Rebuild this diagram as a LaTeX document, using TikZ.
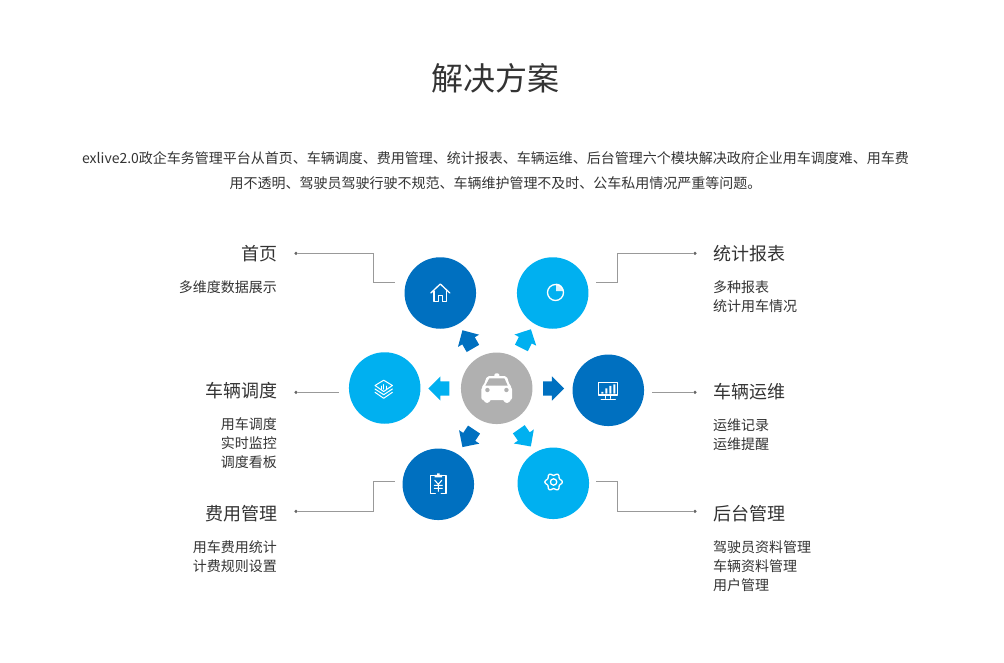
\documentclass[tikz,border=0pt]{standalone}
\usepackage{fontspec}
\setmainfont{Noto Sans CJK SC}
\usetikzlibrary{shapes.arrows}
\definecolor{deepblue}{HTML}{0070C0}
\definecolor{skyblue}{HTML}{00B0F0}
\definecolor{hubgray}{HTML}{B0B0B0}
\definecolor{leadgray}{HTML}{999999}
\definecolor{inkgray}{HTML}{333333}
\tikzset{
  bigdisc/.style={circle,minimum size=71.5pt,inner sep=0pt},
  blockarrow/.style={single arrow,anchor=tip,inner sep=0pt,text height=7pt,text depth=7pt,text width=0pt,minimum width=24pt,minimum height=21pt,single arrow head extend=5pt},
  leadline/.style={draw=leadgray,line width=1pt},
  leaddot/.style={circle,fill=black!60,minimum size=3.4pt,inner sep=0pt},
  headtext/.style={text=inkgray,inner sep=0pt,font=\fontsize{18}{22}\selectfont},
  listtext/.style={text=inkgray,inner sep=0pt,font=\fontsize{14}{19}\selectfont},
  iconline/.style={draw=white,line width=1.3pt,line join=round,line cap=round}
}
\begin{document}
\begin{tikzpicture}[x=1pt,y=-1pt]
  \useasboundingbox (0,0) rectangle (1004,663);
  \node[text=inkgray,inner sep=0pt,font=\fontsize{32}{38}\selectfont] (title) at (495,78) {解决方案};
  \node[listtext,align=center,font=\fontsize{14}{25}\selectfont] (intro) at (495.5,170.5) {exlive2.0政企车务管理平台从首页、车辆调度、费用管理、统计报表、车辆运维、后台管理六个模块解决政府企业用车调度难、用车费\\用不透明、驾驶员驾驶行驶不规范、车辆维护管理不及时、公车私用情况严重等问题。};

  \foreach \name/\cx/\cy/\tone in {home/440.3/293/deepblue,report/552.7/293/skyblue,dispatch/384.7/388/skyblue,upkeep/608.3/390.3/deepblue,cost/438.3/484.3/deepblue,admin/553.3/483.3/skyblue,hub/496.7/388.3/hubgray}
    \node[bigdisc,fill=\tone] (\name) at (\cx,\cy) {};

  \node[blockarrow,fill=deepblue,rotate=120] (arrowhome) at (462.3,330) {};
  \node[blockarrow,fill=skyblue,rotate=63] (arrowreport) at (531,329) {};
  \node[blockarrow,fill=skyblue,rotate=180] (arrowdispatch) at (428,388.5) {};
  \node[blockarrow,fill=deepblue] (arrowupkeep) at (564.3,388.5) {};
  \node[blockarrow,fill=deepblue,rotate=236.4] (arrowcost) at (462.3,447.3) {};
  \node[blockarrow,fill=skyblue,rotate=305] (arrowadmin) at (531,446.7) {};

  \node[headtext,anchor=east] (homehead) at (277.5,254) {首页};
  \node[listtext,anchor=east] (homelist) at (277,287.5) {多维度数据展示};
  \node[headtext,anchor=east] (dispatchhead) at (277.5,391) {车辆调度};
  \node[listtext,anchor=east,align=right] (dispatchlist) at (277,443.5) {用车调度\\实时监控\\调度看板};
  \node[headtext,anchor=east] (costhead) at (277.5,514) {费用管理};
  \node[listtext,anchor=east,align=right] (costlist) at (277,557) {用车费用统计\\计费规则设置};
  \node[headtext,anchor=west] (reporthead) at (713,254) {统计报表};
  \node[listtext,anchor=west,align=left] (reportlist) at (713,297) {多种报表\\统计用车情况};
  \node[headtext,anchor=west] (upkeephead) at (713,391.5) {车辆运维};
  \node[listtext,anchor=west,align=left] (upkeeplist) at (713,434.5) {运维记录\\运维提醒};
  \node[headtext,anchor=west] (adminhead) at (713,514) {后台管理};
  \node[listtext,anchor=west,align=left] (adminlist) at (713,566.5) {驾驶员资料管理\\车辆资料管理\\用户管理};

  \node[leaddot] (homedot) at (296,253.4) {};
  \node[leaddot] (dispatchdot) at (296,392.4) {};
  \node[leaddot] (costdot) at (296,511.4) {};
  \node[leaddot] (reportdot) at (695,253.4) {};
  \node[leaddot] (upkeepdot) at (695,392.4) {};
  \node[leaddot] (admindot) at (695,511.4) {};
  \coordinate (homebend) at (373.3,282.3);
  \coordinate (homeend) at (395,282.3);
  \coordinate (costbend) at (373.3,481.3);
  \coordinate (costend) at (395,481.3);
  \coordinate (reportbend) at (617.3,282.3);
  \coordinate (reportend) at (596,282.3);
  \coordinate (adminbend) at (617.3,481.3);
  \coordinate (adminend) at (596,481.3);
  \coordinate (dispatchend) at (339,392.4);
  \coordinate (upkeepend) at (652,392.4);
  \foreach \name in {home,cost,report,admin}
    \draw[leadline] (\name dot) -| (\name bend) -- (\name end);
  \path[leadline]
    (dispatchdot) edge (dispatchend)
    (upkeepdot) edge (upkeepend);

  \begin{scope}[shift={(home.center)}]
    \draw[iconline] (-9.5,0) -- (0,-9) -- (9.5,0);
    \draw[iconline] (-6.3,-2) -- (-6.3,8.3) -- (-2,8.3) -- (-2,2.5) -- (2,2.5) -- (2,8.3) -- (6.3,8.3) -- (6.3,-2);
  \end{scope}
  \begin{scope}[shift={(report.center)}]
    \draw[iconline] (2.8,-0.5) circle (8);
    \fill[white,opacity=.85] (3.3,-2) -- (3.3,-9.5) arc (-90:0:7.5) -- cycle;
  \end{scope}
  \begin{scope}[shift={(dispatch.center)}]
    \draw[iconline,line width=1pt] (-1,-7.8) -- (7.7,-2.5) -- (-1,3.5) -- (-9.7,-2.5) -- cycle;
    \draw[iconline,line width=1pt] (-9.7,1) -- (-1,6.7) -- (7.7,1);
    \draw[iconline,line width=1pt] (-9.7,4.3) -- (-1,10.3) -- (7.7,4.3);
    \draw[iconline,line width=.8pt] (-3.5,1.2) -- (-3.5,-2) (-1,1.2) -- (-1,-3.5) (1.5,1.2) -- (1.5,-2);
  \end{scope}
  \begin{scope}[shift={(upkeep.center)}]
    \draw[iconline] (-10,-7.7) rectangle (9,4.7);
    \draw[iconline] (-3,4.7) -- (-3,8) (2,4.7) -- (2,8) (-7,9) -- (7,9);
    \fill[white] (-7,1.5) rectangle (-5,3.3) (-3,-2) rectangle (-1,3.3) (1,-4.5) rectangle (3,3.3) (5,-6) rectangle (7,3.3);
  \end{scope}
  \begin{scope}[shift={(cost.center)}]
    \draw[iconline] (-3.5,-8.5) -- (-7.7,-8.5) -- (-7.7,9) -- (-3,9) (3,9) -- (7.7,9) -- (7.7,-8.5) -- (3.5,-8.5);
    \fill[white] (-3.7,-7) -- (-3.7,-9.5) -- (-1.3,-9.5) -- (-1.3,-11) -- (1.3,-11) -- (1.3,-9.5) -- (3.7,-9.5) -- (3.7,-7) -- cycle;
    \draw[iconline,line width=1.1pt] (-3.5,-4) -- (0,0) -- (3.5,-4) (0,0) -- (0,7) (-4,1) -- (4,1) (-4,4) -- (4,4);
  \end{scope}
  \begin{scope}[shift={(admin.center)}]
    \draw[iconline] plot[smooth cycle,domain=0:350,samples=36] ({0.3+(7.7+1.1*cos(6*\x))*cos(\x)},{-1.3+(7.7+1.1*cos(6*\x))*sin(\x)});
    \draw[iconline] (0.3,-1.3) circle (3.2);
  \end{scope}
  \begin{scope}[shift={(hub.center)}]
    \fill[white,rounded corners=1.5pt] (-2.3,-11) -- (-2.3,-15) -- (2.7,-15) -- (2.7,-11) -- cycle;
    \fill[white,rounded corners=2pt] (-9.7,-12.3) -- (10,-12.3) -- (13,-3) -- (15.3,-1) -- (15.3,11.7) -- (12.7,11.7) -- (12.7,14.5) -- (7.7,14.5) -- (7.7,11.7) -- (-7.3,11.7) -- (-7.3,14.5) -- (-12,14.5) -- (-12,11.7) -- (-15.3,11.7) -- (-15.3,-1) -- (-13,-3) -- cycle;
    \fill[hubgray] (-7.3,-10) -- (7.7,-10) -- (11,-2.7) -- (-11.3,-2.7) -- cycle;
    \fill[hubgray] (-9.3,1.7) circle (2.2) (9.7,1.7) circle (2.2);
  \end{scope}
\end{tikzpicture}
\end{document}
